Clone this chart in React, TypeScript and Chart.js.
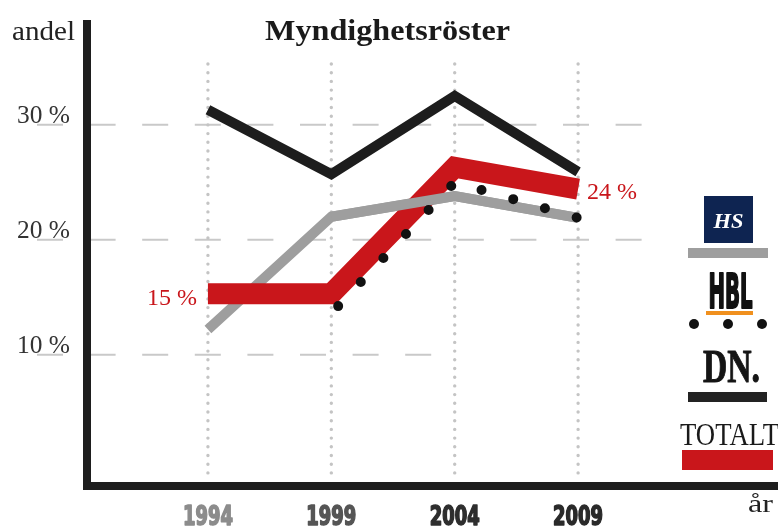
import React, { useEffect, useRef } from "react";
import { Chart, registerables } from "chart.js";

Chart.register(...registerables);

const years = [1994, 1999, 2004, 2009];
const yearLabels = ["1994", "1999", "2004", "2009"];
const yearLabelColors = ["#8c8c8c", "#555555", "#2e2e2e", "#2a2a2a"];
const hsValues = [12.2, 22.0, 23.8, 21.9];
const hblValues: (number | null)[] = [null, 13.6, 25.0, 21.9];
const dnValues = [31.3, 25.7, 32.5, 25.9];
const totalValues = [15.3, 15.3, 26.3, 24.4];
const yTicks = [10, 20, 30];
const legendNames = ["HS", "HBL", "DN.", "TOTALT"];

const RED = "#c9161b";
const GRAY = "#9e9e9e";
const BLACK = "#1d1d1d";
const SERIF = "'Liberation Serif', 'DejaVu Serif', serif";
const NARROW = "'Liberation Sans Narrow', 'DejaVu Sans Condensed', 'Liberation Sans', sans-serif";

function fillFit(
  ctx: CanvasRenderingContext2D,
  text: string,
  x: number,
  y: number,
  width: number,
  align: CanvasTextAlign,
  strokeW = 0
) {
  const w = ctx.measureText(text).width;
  const s = w > 0 ? width / w : 1;
  ctx.save();
  ctx.translate(x, y);
  ctx.scale(s, 1);
  ctx.textAlign = align;
  ctx.textBaseline = "alphabetic";
  ctx.fillText(text, 0, 0);
  if (strokeW > 0) {
    ctx.strokeStyle = ctx.fillStyle as string;
    ctx.lineWidth = strokeW;
    ctx.lineJoin = "round";
    ctx.strokeText(text, 0, 0);
  }
  ctx.restore();
}

const toPts = (vals: (number | null)[]) =>
  years.map((x, i) => ({ x, y: vals[i] })).filter((p) => p.y !== null) as { x: number; y: number }[];

const decor = {
  id: "decor",
  beforeDatasetsDraw(chart: any) {
    const { ctx, scales } = chart;
    const x = scales.x;
    const y = scales.y;
    ctx.save();
    ctx.strokeStyle = "#c9c9c9";
    ctx.lineWidth = 2;
    ctx.setLineDash([26, 26.6]);
    yTicks.forEach((t) => {
      const py = y.getPixelForValue(t);
      ctx.beginPath();
      ctx.moveTo(37, py);
      ctx.lineTo(t === 10 ? 440 : 646, py);
      ctx.stroke();
    });
    ctx.setLineDash([0, 8.7]);
    ctx.lineCap = "round";
    ctx.lineWidth = 3.4;
    ctx.strokeStyle = "#c4c4c4";
    years.forEach((yr) => {
      const px = x.getPixelForValue(yr);
      ctx.beginPath();
      ctx.moveTo(px, 64);
      ctx.lineTo(px, 479);
      ctx.stroke();
    });
    ctx.restore();
  },
  afterDatasetsDraw(chart: any) {
    const { ctx, scales } = chart;
    const x = scales.x;
    const y = scales.y;
    ctx.save();
    ctx.setLineDash([]);
    // axes
    ctx.fillStyle = "#1e1e1e";
    ctx.fillRect(83, 20, 8, 470);
    ctx.fillRect(83, 482, 695, 8);

    // year labels
    ctx.font = `bold 26px ${NARROW}`;
    years.forEach((yr, i) => {
      ctx.fillStyle = yearLabelColors[i];
      fillFit(ctx, yearLabels[i], x.getPixelForValue(yr), 525, 50, "center", 1.6);
    });

    // y tick labels
    ctx.fillStyle = "#333333";
    ctx.font = `25px ${SERIF}`;
    yTicks.forEach((t) => {
      fillFit(ctx, `${t} %`, 70, y.getPixelForValue(t) - 1.5, 53, "right");
    });

    // andel
    ctx.fillStyle = "#222222";
    ctx.font = `27px ${SERIF}`;
    fillFit(ctx, "andel", 12, 40, 63, "left");

    // år
    ctx.font = `25px ${SERIF}`;
    fillFit(ctx, "år", 773, 512, 25, "right");

    // title
    ctx.fillStyle = "#1a1a1a";
    ctx.font = `bold 29px ${SERIF}`;
    fillFit(ctx, "Myndighetsröster", 387.5, 40, 245, "center");

    // red data labels
    ctx.fillStyle = RED;
    ctx.font = `24px ${SERIF}`;
    const first = totalValues[0];
    const last = totalValues[totalValues.length - 1];
    fillFit(ctx, `${Math.round(first)} %`, x.getPixelForValue(years[0]) - 11, y.getPixelForValue(first) + 11, 50, "right");
    fillFit(ctx, `${Math.round(last)} %`, x.getPixelForValue(years[years.length - 1]) + 9, y.getPixelForValue(last) + 10, 50, "left");

    // legend: HS
    ctx.fillStyle = "#0e2451";
    ctx.fillRect(704, 196, 49, 47);
    ctx.fillStyle = "#ffffff";
    ctx.font = `italic bold 22px ${SERIF}`;
    fillFit(ctx, legendNames[0], 728.5, 228, 30, "center");
    ctx.fillStyle = GRAY;
    ctx.fillRect(688, 248, 80, 10);

    // HBL
    ctx.fillStyle = "#111111";
    ctx.font = `bold 48px ${NARROW}`;
    fillFit(ctx, legendNames[1], 730.5, 308, 44, "center", 2.2);
    ctx.fillStyle = "#f0901e";
    ctx.fillRect(706, 311, 47, 4);
    ctx.fillStyle = "#111111";
    [694, 728, 762].forEach((cx) => {
      ctx.beginPath();
      ctx.arc(cx, 324, 5, 0, Math.PI * 2);
      ctx.fill();
    });

    // DN.
    ctx.fillStyle = "#151515";
    ctx.font = `bold 46px ${SERIF}`;
    fillFit(ctx, legendNames[2], 731.5, 382, 57, "center", 1);
    ctx.fillStyle = "#232323";
    ctx.fillRect(688, 392, 79, 10);

    // TOTALT
    ctx.fillStyle = "#1a1a1a";
    ctx.font = `31px ${SERIF}`;
    fillFit(ctx, legendNames[3], 680, 445, 99, "left");
    ctx.fillStyle = RED;
    ctx.fillRect(682, 450, 91, 20);

    ctx.restore();
  },
};

export default function App() {
  const ref = useRef<HTMLCanvasElement | null>(null);
  useEffect(() => {
    if (!ref.current) return;
    const common = {
      fill: false,
      tension: 0,
      pointRadius: 0,
      pointHoverRadius: 0,
      borderCapStyle: "butt" as const,
      borderJoinStyle: "miter" as const,
      clip: false as any,
    };
    const hsPts = toPts(hsValues);
    const chart = new Chart(ref.current, {
      type: "line",
      data: {
        datasets: [
          {
            ...common,
            label: "HBL",
            data: toPts(hblValues),
            borderColor: "#111111",
            borderWidth: 10,
            borderDash: [0, 33],
            borderDashOffset: 23,
            borderCapStyle: "round",
            order: 0,
          },
          {
            ...common,
            label: "HS (överlägg)",
            data: hsPts.slice(1),
            borderColor: GRAY,
            borderWidth: 10,
            order: 1,
          },
          {
            ...common,
            label: "TOTALT",
            data: toPts(totalValues),
            borderColor: RED,
            borderWidth: 21,
            order: 2,
          },
          {
            ...common,
            label: "HS",
            data: hsPts,
            borderColor: GRAY,
            borderWidth: 10,
            order: 3,
          },
          {
            ...common,
            label: "DN",
            data: toPts(dnValues),
            borderColor: BLACK,
            borderWidth: 10,
            order: 4,
          },
        ],
      },
      options: {
        responsive: false,
        devicePixelRatio: 1,
        animation: false,
        events: [],
        layout: { padding: { left: 87, right: 0, top: 20, bottom: 41 } },
        plugins: { legend: { display: false }, tooltip: { enabled: false }, title: { display: false } },
        scales: {
          x: { type: "linear", min: 1989.1, max: 2017.1, display: false },
          y: { type: "linear", min: -1.4, max: 39.1, display: false },
        },
      },
      plugins: [decor],
    } as any);
    return () => chart.destroy();
  }, []);
  return (
    <div style={{ position: "absolute", left: 0, top: 0, width: 778, height: 527, background: "#ffffff" }}>
      <canvas ref={ref} width={778} height={527} style={{ display: "block" }} />
    </div>
  );
}
